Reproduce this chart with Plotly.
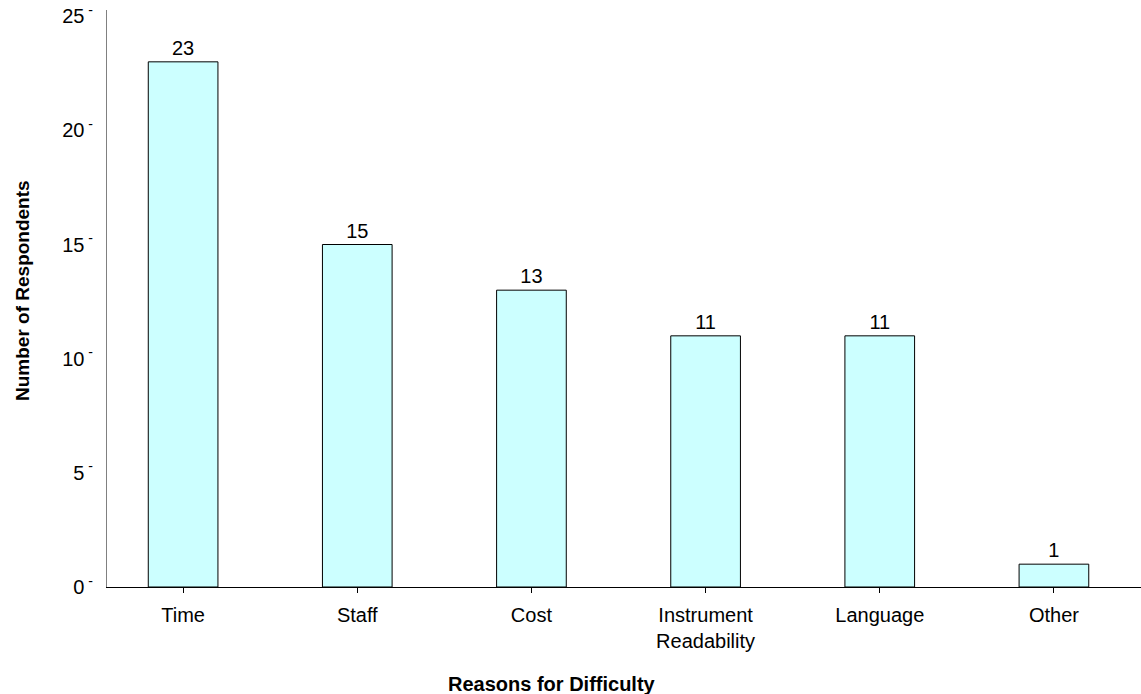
import plotly.graph_objects as go

# Survey results: reasons respondents gave for difficulty
reasons = ["Time", "Staff", "Cost", "Instrument<br>Readability", "Language", "Other"]
respondents = [23, 15, 13, 11, 11, 1]

y_ticks = [0, 5, 10, 15, 20, 25]
y_tick_text = [f"{v}<sup> -</sup>" for v in y_ticks]

FONT = "Liberation Sans, Arial, sans-serif"
W, H = 1141, 694
M_L, M_R, M_T, M_B = 107, 0, 10, 107

fig = go.Figure(
    go.Bar(
        x=list(range(len(reasons))),
        y=respondents,
        width=0.4,
        marker=dict(color="#CCFFFF", line=dict(color="#000000", width=1)),
        text=[str(v) for v in respondents],
        textposition="outside",
        cliponaxis=False,
        textfont=dict(family=FONT, size=20, color="#000000"),
    )
)

fig.update_layout(
    width=W,
    height=H,
    margin=dict(l=M_L, r=M_R, t=M_T, b=M_B),
    paper_bgcolor="white",
    plot_bgcolor="white",
    showlegend=False,
    font=dict(family=FONT, size=20, color="#000000"),
)

fig.update_xaxes(
    tickmode="array",
    tickvals=list(range(len(reasons))),
    ticktext=reasons,
    range=[-0.437, 5.5],
    showline=True,
    linecolor="#000000",
    linewidth=1,
    showgrid=False,
    zeroline=False,
    ticks="outside",
    ticklen=5,
    tickcolor="#000000",
    tickson="boundaries",
    ticklabelstandoff=5,
    tickfont=dict(family=FONT, size=20),
)

fig.update_yaxes(
    range=[0, 25.27],
    tickmode="array",
    tickvals=y_ticks,
    ticktext=y_tick_text,
    showline=True,
    linecolor="#808080",
    linewidth=1,
    showgrid=False,
    zeroline=False,
    ticks="",
    ticklabelstandoff=9,
    tickfont=dict(family=FONT, size=20),
)

# axis titles placed as paper annotations
plot_w = W - M_L - M_R
plot_h = H - M_T - M_B
fig.add_annotation(
    text="<b>Reasons for Difficulty</b>",
    xref="paper", yref="paper",
    x=(552 - M_L) / plot_w, y=-(684 - (H - M_B)) / plot_h,
    xanchor="center", yanchor="middle",
    showarrow=False,
    font=dict(family=FONT, size=20),
)
fig.add_annotation(
    text="<b>Number of Respondents</b>",
    xref="paper", yref="paper",
    x=-(M_L - 22) / plot_w, y=((H - M_B) - 291) / plot_h,
    xanchor="center", yanchor="middle",
    textangle=-90,
    showarrow=False,
    font=dict(family=FONT, size=19),
)

fig.write_html("out.html")
